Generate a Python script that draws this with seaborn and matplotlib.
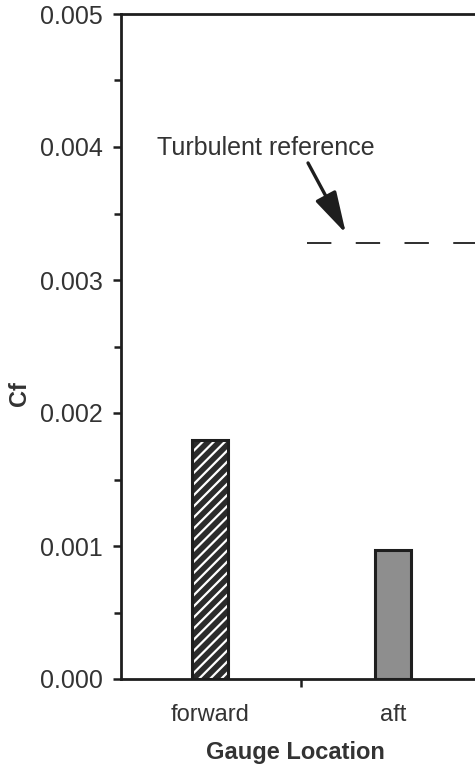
import matplotlib
matplotlib.use("Agg")
import matplotlib.pyplot as plt
from matplotlib.patches import Rectangle
from matplotlib.ticker import MultipleLocator, FixedLocator, FormatStrFormatter
import seaborn as sns
import pandas as pd

# ---- data ----
locations = ["forward", "aft"]
cf_values = [0.00180, 0.00097]
turbulent_ref = 0.00328
ref_label = "Turbulent reference"
x_title = "Gauge Location"
y_title = "Cf"

sns.set_theme(style="white")
plt.rcParams["font.family"] = ["Liberation Sans", "DejaVu Sans"]
plt.rcParams["hatch.linewidth"] = 1.6

W, H = 475, 769
fig = plt.figure(figsize=(W / 100, H / 100), dpi=100)
ax_left, ax_top, ax_bottom = 121, 14, 679
px_per_unit = 183.0
xlim = (-0.486, 1.5)
ax_w = (xlim[1] - xlim[0]) * px_per_unit
ax = fig.add_axes([ax_left / W, (H - ax_bottom) / H, ax_w / W, (ax_bottom - ax_top) / H])

df = pd.DataFrame({"loc": locations, "cf": cf_values})
sns.barplot(data=df, x="loc", y="cf", ax=ax, width=0.195,
            palette=["#2b2b2b", "#8e8e8e"], hue="loc", legend=False,
            saturation=1)

edge = "#1e1e1e"
for i, p in enumerate(ax.patches[:len(locations)]):
    if i == 0:
        p.set_hatch("///")
        p.set_edgecolor("white")
        p.set_linewidth(0)
    else:
        p.set_edgecolor(edge)
        p.set_linewidth(0)
    ax.add_patch(Rectangle(p.get_xy(), p.get_width(), p.get_height(),
                           fill=False, ec=edge, lw=2.2, zorder=p.get_zorder() + 0.1))

# reference dashed line
ax.hlines(turbulent_ref, 0.53, 1.5, colors="#1e1e1e", lw=1.3,
          linestyles=[(0, (13.5, 13.5))])
ax.annotate("", xy=(0.743, 0.00335), xytext=(0.536, 0.00388),
            arrowprops=dict(arrowstyle="-|>,head_length=0.8,head_width=0.22",
                            mutation_scale=32, lw=2.4,
                            color="#1e1e1e", shrinkA=0, shrinkB=0))
ax.text(-0.29, 0.00394, ref_label, fontsize=18, color="#333333",
        ha="left", va="baseline")

ax.set_xlim(*xlim)
ax.set_ylim(0, 0.005)

ax.yaxis.set_major_locator(MultipleLocator(0.001))
ax.yaxis.set_minor_locator(MultipleLocator(0.0005))
ax.yaxis.set_major_formatter(FormatStrFormatter("%.3f"))
ax.xaxis.set_minor_locator(FixedLocator([0.5, 1.5]))

ax.tick_params(axis="y", which="major", direction="out", length=6, width=1.8,
               color=edge, labelsize=18, labelcolor="#333333", pad=7, left=True)
ax.tick_params(axis="y", which="minor", direction="out", length=5, width=1.8,
               color=edge, left=True)
ax.tick_params(axis="x", which="major", length=0, labelsize=17,
               labelcolor="#333333", pad=18)
ax.tick_params(axis="x", which="minor", direction="out", length=6, width=1.8,
               color=edge, bottom=True)

for side, sp in ax.spines.items():
    sp.set_color(edge)
    sp.set_linewidth(2.0)
    sp.set_visible(True)

ax.set_xlabel(x_title, fontsize=17, fontweight="bold", color="#333333")
ax.xaxis.set_label_coords((295 - ax_left) / ax_w, -(741 - ax_bottom) / (ax_bottom - ax_top))
ax.set_ylabel(y_title, fontsize=17, fontweight="bold", color="#333333")
ax.yaxis.set_label_coords((31 - ax_left) / ax_w, (ax_bottom - 394) / (ax_bottom - ax_top))

fig.savefig("out.png", dpi=100)
